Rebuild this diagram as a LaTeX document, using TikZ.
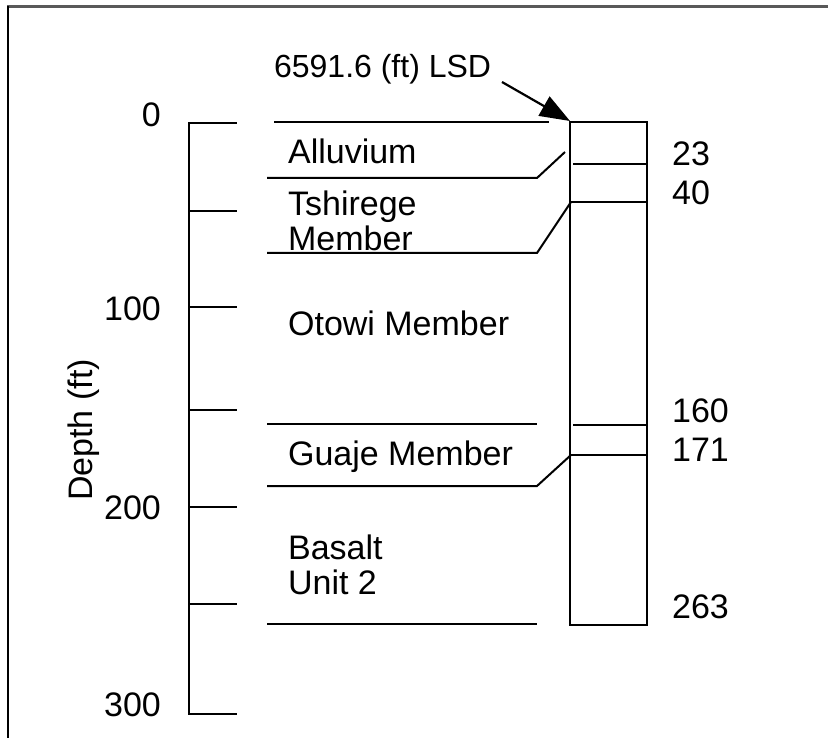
\documentclass[tikz,border=0pt]{standalone}
\usepackage{fontspec}
\setmainfont{Liberation Sans}
\usetikzlibrary{arrows.meta}

\begin{document}
\begin{tikzpicture}[x=1pt,y=-1pt,line width=2.2pt,
    lbl/.style={inner sep=0pt,font=\fontsize{34}{35}\selectfont},
    unit/.style={lbl,anchor=base west},
    contact/.style={line width=2pt}]
      \useasboundingbox (0,0) rectangle (828,738);

      % frame
      \draw[gray!70!black,line width=2.2pt] (7,6.5) -- (828,6.5);
      \draw[line width=2.2pt] (8,6.5) -- (8,738);

      % depth axis
      \draw (189,123) -- (189,714);
      \foreach \y in {123,211,307,410,507,604,714} \draw (188,\y) -- (237,\y);
      \foreach \y/\d in {127/0,320/100,519/200,716/300}
        \node[lbl,anchor=base east] (d\d) at (162,\y) {\d};
      \node[lbl,rotate=90] (depth) at (84,430) {Depth (ft)};

      % well column
      \draw (570,122) rectangle (647,625); \coordinate (top) at (570,121);
      \draw (573,164) -- (647,164); \draw (570,202) -- (647,202);
      \draw (573,425) -- (647,425); \draw (570,455) -- (647,455);

      % contacts
      \draw[contact] (274,122) -- (549,122);
      \draw[contact] (267,178) -- (537,178) -- (565,152);
      \draw[contact] (267,253) -- (537,253) -- (571,202);
      \draw[contact] (267,424) -- (537,424);
      \draw[contact] (267,486) -- (537,486) -- (571,455);
      \draw[contact] (267,624) -- (537,624);

      % units
      \node[unit] (alluvium) at (287,164) {Alluvium};
      \node[lbl,align=left,anchor=west] (tshirege) at (287,221) {Tshirege\\Member};
      \node[unit] (otowi) at (287,336) {Otowi Member};
      \node[unit] (guaje) at (287,465) {Guaje Member};
      \node[lbl,align=left,anchor=west] (basalt) at (287,565) {Basalt\\Unit 2};

      % contact depths
      \foreach \y/\d in {166/23,205/40,422/160,461/171,618/263}
        \node[unit] (c\d) at (671,\y) {\d};

      % surface
      \node[inner sep=0pt,font=\fontsize{32}{33}\selectfont,anchor=west] (lsd) at (273,69) {6591.6 (ft) LSD};
      \coordinate (tail) at (502,82);
      \draw[-{Triangle[length=30pt,width=22pt]}] (tail) -- (top);
    \end{tikzpicture}
\end{document}
